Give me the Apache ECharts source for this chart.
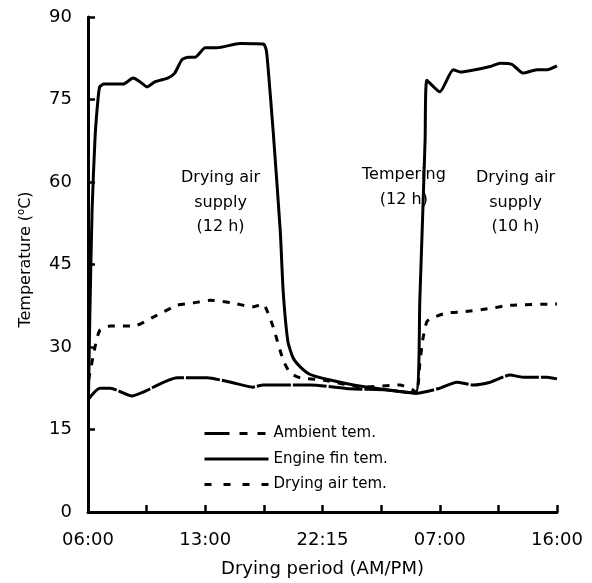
<!DOCTYPE html>
<html>
<head>
<meta charset="utf-8">
<script src="https://cdn.jsdelivr.net/npm/echarts@6/dist/echarts.min.js"></script>
<style>html,body{margin:0;padding:0;background:#fff}#c{width:592px;height:583px}</style>
</head>
<body>
<div id="c"></div>
<script>
// x positions are in tick units (0..8), labels shown on every second tick
var xTickLabels = ['06:00', '', '13:00', '', '22:15', '', '07:00', '', '16:00'];
var yTicks = [0, 15, 30, 45, 60, 75, 90];

var ambientX = [0.00, 0.20, 0.38, 0.75, 0.94, 1.52, 2.03, 2.47, 2.81, 2.99, 3.62, 3.79, 4.47, 5.10, 5.61, 6.00, 6.29, 6.57, 6.86, 7.20, 7.42, 7.83, 8.00];
var ambientY = [20.4, 22.5, 22.5, 21.1, 21.8, 24.4, 24.4, 23.5, 22.7, 23.1, 23.1, 23.1, 22.4, 22.2, 21.6, 22.5, 23.6, 23.1, 23.6, 24.9, 24.5, 24.5, 24.2];

var engineX = [0.01, 0.03, 0.07, 0.12, 0.17, 0.20, 0.27, 0.60, 0.77, 0.89, 1.01, 1.14, 1.36, 1.48, 1.60, 1.71, 1.83, 2.00, 2.20, 2.59, 2.99, 3.04, 3.07, 3.16, 3.28, 3.33, 3.41, 3.50, 3.62, 3.79, 4.13, 4.69, 5.59, 5.66, 5.75, 5.78, 6.00, 6.23, 6.35, 6.86, 7.03, 7.23, 7.42, 7.66, 7.83, 8.00];
var engineY = [22.0, 35.0, 55.0, 68.0, 75.0, 77.3, 77.8, 77.8, 78.9, 78.2, 77.3, 78.2, 78.9, 79.8, 82.2, 82.7, 82.7, 84.4, 84.4, 85.2, 85.1, 84.0, 81.0, 69.0, 51.0, 40.0, 31.0, 28.0, 26.4, 25.0, 24.0, 22.8, 21.6, 38.5, 67.6, 78.5, 76.4, 80.4, 80.0, 81.0, 81.6, 81.4, 79.8, 80.4, 80.4, 81.1];

var dryX = [0.01, 0.12, 0.20, 0.38, 0.77, 1.18, 1.52, 1.79, 2.08, 2.47, 2.81, 2.99, 3.05, 3.16, 3.33, 3.45, 3.62, 4.01, 4.69, 5.32, 5.54, 5.61, 5.66, 5.71, 5.78, 5.88, 6.12, 6.40, 6.86, 7.20, 8.00];
var dryY = [24.0, 30.0, 33.0, 33.8, 33.8, 35.8, 37.6, 38.0, 38.5, 38.0, 37.3, 37.8, 36.7, 33.6, 27.6, 25.3, 24.4, 24.0, 22.7, 23.1, 22.2, 21.6, 27.0, 31.3, 34.6, 35.3, 36.2, 36.4, 37.0, 37.6, 37.8];

var seriesNames = ['Ambient tem.', 'Engine fin tem.', 'Drying air tem.'];

function pairs(xs, ys) { return xs.map(function (x, i) { return [x, ys[i]]; }); }

var FONT = 'DejaVu Sans';
var chart = echarts.init(document.getElementById('c'));
chart.setOption({
  animation: false,
  backgroundColor: '#fff',
  textStyle: { fontFamily: FONT, color: '#000' },
  grid: { left: 88, right: 35, top: 17, bottom: 71, containLabel: false },
  xAxis: {
    type: 'value', min: 0, max: 8, interval: 1,
    name: 'Drying period (AM/PM)', nameLocation: 'middle', nameGap: 48,
    nameTextStyle: { fontSize: 18, color: '#000', fontFamily: FONT },
    axisLine: { show: true, lineStyle: { color: '#000', width: 3 } },
    axisTick: { show: true, inside: true, length: 7, lineStyle: { color: '#000', width: 2.5 } },
    axisLabel: { fontSize: 18, color: '#000', margin: 19, fontFamily: FONT,
      formatter: function (v) { var i = Math.round(v); return xTickLabels[i] || ''; } },
    splitLine: { show: false }
  },
  yAxis: {
    type: 'value', min: yTicks[0], max: yTicks[yTicks.length - 1], interval: 15,
    name: 'Temperature ({sup|o}C)', nameLocation: 'middle', nameGap: 52, nameRotate: 90,
    nameTextStyle: { fontSize: 16, color: '#000', fontFamily: FONT, lineHeight: 20, padding: [0, 0, 0, 10],
      rich: { sup: { fontSize: 10, lineHeight: 10, verticalAlign: 'top', fontFamily: FONT, color: '#000' } } },
    axisLine: { show: true, lineStyle: { color: '#000', width: 3 } },
    axisTick: { show: true, inside: true, length: 7, lineStyle: { color: '#000', width: 2.5 } },
    axisLabel: { fontSize: 18, color: '#000', margin: 16, fontFamily: FONT },
    splitLine: { show: false }
  },
  legend: {
    orient: 'vertical', left: 198, top: 421, itemWidth: 64, itemHeight: 14, itemGap: 10.5,
    data: [
      { name: seriesNames[0], lineStyle: { width: 3, type: [25, 10, 8, 10, 8, 10] } },
      { name: seriesNames[1], lineStyle: { width: 3, type: 'solid' } },
      { name: seriesNames[2], lineStyle: { width: 3, type: [7, 12] } }
    ],
    itemStyle: { opacity: 0 },
    textStyle: { fontSize: 15, color: '#000', fontFamily: FONT, padding: 0 }
  },
  series: [
    { name: seriesNames[0], type: 'line', data: pairs(ambientX, ambientY), showSymbol: false, symbol: 'none', symbolSize: 0,
      smooth: 0.2,
      lineStyle: { color: '#000', width: 3, type: [34, 2] }, itemStyle: { color: '#000' } },
    { name: seriesNames[1], type: 'line', data: pairs(engineX, engineY), showSymbol: false, symbol: 'none', symbolSize: 0,
      smooth: 0.2,
      lineStyle: { color: '#000', width: 3, type: 'solid' }, itemStyle: { color: '#000' } },
    { name: seriesNames[2], type: 'line', data: pairs(dryX, dryY), showSymbol: false, symbol: 'none', symbolSize: 0,
      smooth: 0.2,
      lineStyle: { color: '#000', width: 3, type: [7, 8] }, itemStyle: { color: '#000' } }
  ],
  graphic: [
    { type: 'text', left: 181, top: 166, style: { text: 'Drying air\nsupply\n(12 h)', fontSize: 16, lineHeight: 24.5, fontFamily: FONT, fill: '#000', textAlign: 'center' } },
    { type: 'text', left: 362, top: 163, style: { text: 'Tempering\n(12 h)', fontSize: 16, lineHeight: 24.5, fontFamily: FONT, fill: '#000', textAlign: 'center' } },
    { type: 'text', left: 476, top: 166, style: { text: 'Drying air\nsupply\n(10 h)', fontSize: 16, lineHeight: 24.5, fontFamily: FONT, fill: '#000', textAlign: 'center' } }
  ]
});
</script>
</body>
</html>
